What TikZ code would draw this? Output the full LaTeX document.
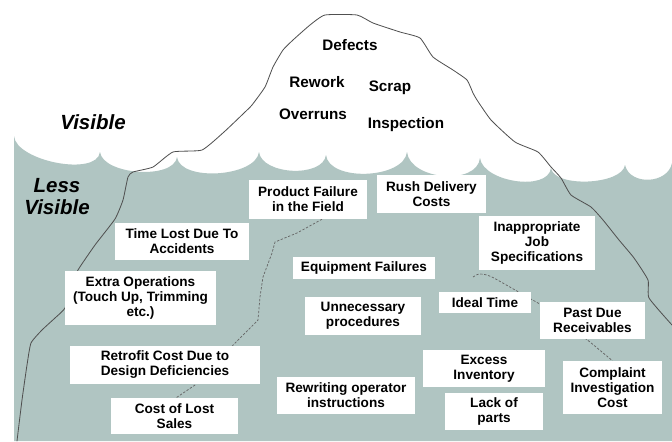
\documentclass[tikz,border=0pt]{standalone}
\usepackage{fontspec}
\setmainfont{Liberation Sans}
\usetikzlibrary{calc}
\definecolor{water}{RGB}{176,197,194}
\definecolor{outline}{RGB}{80,80,80}
\definecolor{dashgray}{RGB}{100,100,100}
\pgfdeclarelayer{sea}
\pgfdeclarelayer{links}
\pgfsetlayers{sea,links,main}
\begin{document}
\begin{tikzpicture}[x=0.03cm,y=-0.03cm,
  cbox/.style n args={2}{fill=white, inner sep=0pt, align=center,
    font=\bfseries\fontsize{11.6}{12.8}\selectfont,
    minimum width=#1*0.03cm, minimum height=#2*0.03cm},
  toplabel/.style={inner sep=0pt, font=\bfseries\fontsize{13}{15}\selectfont},
  zonelabel/.style={inner sep=0pt, align=center,
    font=\bfseries\itshape\fontsize{17.5}{18.8}\selectfont},
  bergline/.style={draw=outline, line width=0.7pt, line join=round, line cap=round},
  hiddenlink/.style={draw=dashgray, line width=0.6pt, dash pattern=on 2pt off 1.4pt}]
\useasboundingbox (0,0) rectangle (672,441);

\begin{pgfonlayer}{sea}
\fill[white] (0,0) rectangle (672,441);
% sea surface with scalloped wave crests
\fill[water] (14,441) -- (14,136)
  .. controls (16,161) and (97,177) .. (100,152)
  .. controls (103,175) and (174,180) .. (177,157)
  .. controls (180,182) and (256,177) .. (259,152)
  .. controls (262,175) and (323,178) .. (326,155)
  .. controls (329,182) and (404,179) .. (407,152)
  .. controls (410,180) and (477,186) .. (480,158)
  .. controls (483,182) and (548,192) .. (551,168)
  .. controls (554,188) and (622,185) .. (625,165)
  .. controls (630,186) and (668,184) .. (672,163)
  -- (672,441) -- cycle;
% iceberg outline
\draw[bergline] plot[smooth, tension=0.3] coordinates {
  (17,441) (22,400) (27,365) (31,343) (42,330) (55,318) (65,308) (72,285)
  (78,270) (95,245) (115,219) (123,200) (128,177) (133,172) (153,167)
  (173,152) (202,150) (224,132) (244,113) (252,105) (265,87) (273,67)
  (283,50) (293,40) (310,25) (325,15) (357,15) (373,23) (400,32) (420,38)
  (433,57) (453,70) (467,80) (473,93) (477,100) (491,120) (515,142)
  (538,152) (551,167) (561,178) (571,195) (591,207) (603,220) (619,240)
  (634,258) (648,280) (649,298) (672,325)};
\end{pgfonlayer}

% tip of the iceberg
\node[toplabel] (defects) at (350,45) {Defects};
\node[toplabel] (rework) at (317,82) {Rework};
\node[toplabel] (scrap) at (390,88) {Scrap};
\node[toplabel] (overruns) at (313,114) {Overruns};
\node[toplabel] (inspection) at (406,125) {Inspection};

\node[zonelabel] (visible) at (93,122.5) {Visible};
\node[zonelabel] (lessvisible) at (57,197) {Less\\Visible};

% cost boxes below the waterline
\coordinate (dstart) at (473,277);
\node[cbox={118}{39}] (pf) at (308,199.5) {Product Failure\\in the Field};
\node[cbox={109}{38}] (rush) at (431.5,194) {Rush Delivery\\Costs};
\node[cbox={134}{37}] (tl) at (182,241.5) {Time Lost Due To\\Accidents};
\node[cbox={116}{54}] (inap) at (537,243) {Inappropriate\\Job\\Specifications};
\node[cbox={151}{54}] (extra) at (140.5,298) {Extra Operations\\(Touch Up, Trimming\\etc.)};
\node[cbox={142}{22}] (equip) at (364,268) {Equipment Failures};
\node[cbox={116}{38}] (unnec) at (363,316) {Unnecessary\\procedures};
\node[cbox={92}{21}] (ideal) at (485,302.5) {Ideal Time};
\node[cbox={105}{37}] (past) at (592.5,320.5) {Past Due\\Receivables};
\node[cbox={190}{38}] (retro) at (165,365) {Retrofit Cost Due to\\Design Deficiencies};
\node[cbox={122}{37}] (excess) at (484,368.5) {Excess\\Inventory};
\node[cbox={99}{53}] (compl) at (612.5,387.5) {Complaint\\Investigation\\Cost};
\node[cbox={138}{37}] (rewr) at (346,395.5) {Rewriting operator\\instructions};
\node[cbox={127}{36}] (cls) at (174.5,416) {Cost of Lost\\Sales};
\node[cbox={98}{37}] (lack) at (494,411.5) {Lack of\\parts};

% hidden links, drawn beneath the boxes
\begin{pgfonlayer}{links}
\draw[hiddenlink] ([xshift=0.42cm]pf.south) -- (297,233) -- (275,242)
  -- (272,253) -- (263,277) -- (260,297) -- (258,320) -- (238,340)
  -- (195,385) -- ([xshift=0.05cm]cls.north);
\draw[hiddenlink] (dstart) .. controls (478,272) and (486,274) .. (494,278)
  -- (538,303) -- (590,342) -- (compl.north);
\end{pgfonlayer}
\end{tikzpicture}
\end{document}
